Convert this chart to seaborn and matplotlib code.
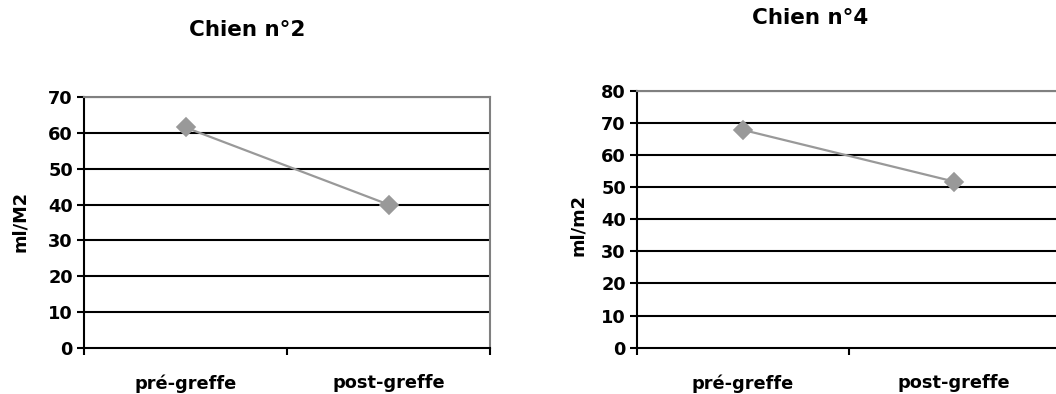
import matplotlib
matplotlib.use("Agg")
import matplotlib.pyplot as plt
import seaborn as sns
import numpy as np

categories = ["pré-greffe", "post-greffe"]
chien2_values = [61.5, 40.0]
chien4_values = [67.8, 51.7]
chien2_yticks = [0, 10, 20, 30, 40, 50, 60, 70]
chien4_yticks = [0, 10, 20, 30, 40, 50, 60, 70, 80]
titles = ["Chien n°2", "Chien n°4"]
ylabels = ["ml/M2", "ml/m2"]

sns.set_theme(style="white")
plt.rcParams['font.family'] = ['DejaVu Sans']
plt.rcParams['font.weight'] = 'bold'
plt.rcParams['text.color'] = 'black'
plt.rcParams['xtick.color'] = 'black'
plt.rcParams['ytick.color'] = 'black'
plt.rcParams['xtick.labelcolor'] = 'black'
plt.rcParams['ytick.labelcolor'] = 'black'

fig = plt.figure(figsize=(10.56, 3.94), dpi=100)
ax1 = fig.add_axes([84/1056, 46/394, 406/1056, 251/394])
ax2 = fig.add_axes([637/1056, 46.3/394, 423/1056, 257/394])

LINE = "#999999"
BORDER = "#808080"
FS = 12.8

def style(ax, vals, yticks, title, title_xy):
    sns.pointplot(x=categories, y=vals, ax=ax, color=LINE, markers="D",
                  markersize=9, linewidth=1.6, errorbar=None, zorder=5)
    ax.set_xlim(-0.5, 1.5)
    ax.set_ylim(0, yticks[-1])
    ax.set_yticks(yticks)
    for y in yticks[1:]:
        ax.axhline(y, color="black", lw=1.5, zorder=1)
    for side in ["left", "bottom"]:
        ax.spines[side].set_color("black")
        ax.spines[side].set_linewidth(1.5)
    for side in ["top", "right"]:
        ax.spines[side].set_color(BORDER)
        ax.spines[side].set_linewidth(1.5)
    ax.set_xticks([0, 1])
    ax.set_xticklabels(categories, fontsize=FS, fontweight="bold", color="black")
    ax.set_xticks([-0.5, 0.5, 1.5], minor=True)
    ax.tick_params(axis="x", which="major", length=0, pad=19)
    ax.tick_params(axis="x", which="minor", length=5, width=1.5, color="black", direction="out", bottom=True)
    ax.tick_params(axis="y", length=5, width=1.5, color="black", direction="out", left=True, pad=3, labelsize=FS)
    for lab in ax.get_yticklabels():
        lab.set_fontweight("bold")
        lab.set_color("black")
    ax.set_xlabel("")
    ax.set_ylabel("")
    fig.text(title_xy[0]/1056, 1 - title_xy[1]/394, title, ha="center", va="center",
             fontsize=15.5, fontweight="bold", color="black")

style(ax1, chien2_values, chien2_yticks, titles[0], (247, 30))
style(ax2, chien4_values, chien4_yticks, titles[1], (810, 18))

fig.text(20/1056, 1 - 222/394, ylabels[0], rotation=90, ha="center", va="center",
         fontsize=FS, fontweight="bold", color="black")
fig.text(578/1056, 1 - 225/394, ylabels[1], rotation=90, ha="center", va="center",
         fontsize=FS, fontweight="bold", color="black")

fig.savefig("out.png", dpi=100, facecolor="white")
